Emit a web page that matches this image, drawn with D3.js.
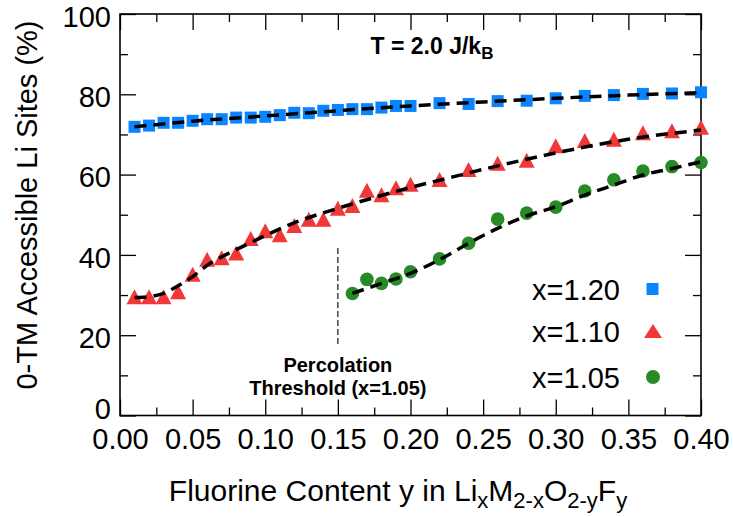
<!DOCTYPE html>
<html>
<head>
<meta charset="utf-8">
<script src="https://cdn.jsdelivr.net/npm/d3@7"></script>
<style>
body { margin: 0; background: #fff; }
text { font-family: "Liberation Sans", Arial, Helvetica, sans-serif; fill: #000; }
</style>
</head>
<body>
<div id="chart"></div>
<script>
// sample positions (fluorine content y)
var yFull = [0.01, 0.02, 0.03, 0.04, 0.05, 0.06, 0.07, 0.08, 0.09, 0.10,
             0.11, 0.12, 0.13, 0.14, 0.15, 0.16, 0.17, 0.18, 0.19, 0.20,
             0.22, 0.24, 0.26, 0.28, 0.30, 0.32, 0.34, 0.36, 0.38, 0.40];
var yPerc = [0.16, 0.17, 0.18, 0.19, 0.20, 0.22, 0.24, 0.26, 0.28, 0.30,
             0.32, 0.34, 0.36, 0.38, 0.40];

// 0-TM accessible Li sites (%)
var x120 = [71.9, 72.2, 72.9, 72.9, 73.4, 73.8, 73.8, 74.2, 74.2, 74.4,
            74.8, 75.4, 75.3, 75.9, 76.1, 76.3, 76.3, 76.7, 77.1, 77.1,
            77.8, 77.6, 78.3, 78.4, 79.0, 79.6, 79.8, 80.1, 80.2, 80.5];
var x110 = [29.6, 29.6, 29.6, 30.8, 35.2, 38.9, 39.3, 40.5, 44.1, 46.0,
            45.0, 47.3, 48.9, 48.9, 51.6, 52.3, 56.1, 55.0, 56.7, 57.6,
            58.8, 61.3, 62.8, 63.6, 67.2, 68.5, 68.8, 70.4, 70.9, 71.8];
var x105 = [30.4, 33.9, 32.9, 34.0, 35.8, 39.0, 42.9, 48.9, 50.4, 51.9,
            55.9, 58.7, 60.9, 62.0, 63.0];

// fitted curves (dashed)
var fit120X = [0.01, 0.05, 0.10, 0.15, 0.20, 0.25, 0.30, 0.35, 0.40];
var fit120Y = [71.9, 73.3, 74.6, 75.9, 77.1, 78.1, 79.0, 79.8, 80.4];
var fit110X = [0.01, 0.02, 0.03, 0.04, 0.05, 0.06, 0.07, 0.08, 0.10, 0.12,
               0.15, 0.18, 0.20, 0.22, 0.25, 0.30, 0.35, 0.40];
var fit110Y = [29.4, 29.6, 30.4, 32.3, 34.6, 37.4, 39.5, 41.3, 44.8, 48.0,
               51.6, 54.8, 56.8, 58.6, 61.3, 65.4, 68.8, 71.1];
var fit105X = [0.16, 0.18, 0.20, 0.22, 0.24, 0.26, 0.28, 0.30, 0.32, 0.34,
               0.36, 0.38, 0.40];
var fit105Y = [30.4, 32.9, 35.4, 38.8, 42.9, 46.6, 49.7, 52.0, 54.9, 57.4,
               59.9, 61.5, 63.2];

var xMajor = [0.00, 0.05, 0.10, 0.15, 0.20, 0.25, 0.30, 0.35, 0.40];
var xMinor = [0.025, 0.075, 0.125, 0.175, 0.225, 0.275, 0.325, 0.375];
var yMajor = [0, 20, 40, 60, 80, 100];
var yMinor = [10, 30, 50, 70, 90];

var legendLabels = ["x=1.20", "x=1.10", "x=1.05"];
var percLine = {x: 0.15, y0: 17.1, y1: 41.7};

var W = 733, H = 517;
var blue = "#0a85ff", red = "#f03838", green = "#268b26";

var svg = d3.select("#chart").append("svg")
    .attr("width", W).attr("height", H);

var x = d3.scaleLinear().domain([0, 0.4]).range([120, 701]);
var y = d3.scaleLinear().domain([0, 100]).range([415.5, 14]);

function ticks(axisFn, pos, values, size, labels) {
    var a = axisFn.tickValues(values).tickSizeInner(-size).tickSizeOuter(0);
    if (!labels) a.tickFormat("");
    var g = svg.append("g").attr("transform", pos).call(a);
    g.select(".domain").remove();
    g.selectAll(".tick line").attr("stroke", "#000").attr("stroke-width", 1.3);
    return g;
}

var gx = ticks(d3.axisBottom(x).tickFormat(d3.format(".2f")).tickPadding(13), "translate(0,415.5)", xMajor, 16, true);
gx.selectAll("text").attr("font-size", 29);
ticks(d3.axisBottom(x), "translate(0,415.5)", xMinor, 8, false);
ticks(d3.axisTop(x), "translate(0,14)", xMajor, 16, false);
ticks(d3.axisTop(x), "translate(0,14)", xMinor, 8, false);

var gy = ticks(d3.axisLeft(y).tickFormat(d3.format("d")).tickPadding(9), "translate(120,0)", yMajor, 16, true);
gy.selectAll("text").attr("font-size", 29)
    .attr("dy", function(d) { return d === 0 ? "0.1em" : "0.42em"; });
ticks(d3.axisLeft(y), "translate(120,0)", yMinor, 8, false);
ticks(d3.axisRight(y), "translate(701,0)", yMajor, 16, false);
ticks(d3.axisRight(y), "translate(701,0)", yMinor, 8, false);

svg.selectAll(".tick text").attr("fill", "#000").style("font-family", '"Liberation Sans", Arial, sans-serif');

// frame
svg.append("rect")
    .attr("x", x(0)).attr("y", y(100))
    .attr("width", x(0.4) - x(0)).attr("height", y(0) - y(100))
    .attr("fill", "none").attr("stroke", "#000").attr("stroke-width", 1.6);

// percolation threshold marker
svg.append("line")
    .attr("x1", x(percLine.x)).attr("x2", x(percLine.x))
    .attr("y1", y(percLine.y1)).attr("y2", y(percLine.y0))
    .attr("stroke", "#000").attr("stroke-width", 1.1)
    .attr("stroke-dasharray", "6,3");

svg.append("text")
    .attr("x", x(percLine.x)).attr("y", 372)
    .attr("text-anchor", "middle").attr("font-size", 20).attr("font-weight", "bold")
    .text("Percolation");
svg.append("text")
    .attr("x", x(percLine.x)).attr("y", 395)
    .attr("text-anchor", "middle").attr("font-size", 20).attr("font-weight", "bold")
    .text("Threshold (x=1.05)");

// markers
function triPath(w, h) {
    return "M0," + (-h / 2) + "L" + (w / 2) + "," + (h / 2) + "L" + (-w / 2) + "," + (h / 2) + "Z";
}

svg.append("g").selectAll("rect")
    .data(yFull.map(function(d, i) { return [d, x120[i]]; }))
    .enter().append("rect")
    .attr("x", function(d) { return x(d[0]) - 6; })
    .attr("y", function(d) { return y(d[1]) - 6; })
    .attr("width", 12).attr("height", 12)
    .attr("fill", blue);

svg.append("g").selectAll("path")
    .data(yFull.map(function(d, i) { return [d, x110[i]]; }))
    .enter().append("path")
    .attr("d", triPath(16, 15))
    .attr("transform", function(d) { return "translate(" + x(d[0]) + "," + y(d[1]) + ")"; })
    .attr("fill", red);

svg.append("g").selectAll("circle")
    .data(yPerc.map(function(d, i) { return [d, x105[i]]; }))
    .enter().append("circle")
    .attr("cx", function(d) { return x(d[0]); })
    .attr("cy", function(d) { return y(d[1]); })
    .attr("r", 6.8)
    .attr("fill", green);

// fitted dashed curves
var line = d3.line()
    .x(function(d) { return x(d[0]); })
    .y(function(d) { return y(d[1]); })
    .curve(d3.curveMonotoneX);

[[fit120X, fit120Y], [fit110X, fit110Y], [fit105X, fit105Y]].forEach(function(f) {
    svg.append("path")
        .datum(f[0].map(function(d, i) { return [d, f[1][i]]; }))
        .attr("d", line)
        .attr("fill", "none")
        .attr("stroke", "#000")
        .attr("stroke-width", 3.5)
        .attr("stroke-dasharray", "12,7");
});

// title
var title = svg.append("text")
    .attr("x", 432).attr("y", 54)
    .attr("text-anchor", "middle").attr("font-size", 23).attr("font-weight", "bold");
title.append("tspan").text("T = 2.0 J/k");
title.append("tspan").attr("font-size", 17).attr("dy", 5).text("B");

// legend
var legendColors = [blue, red, green];
var legendY = [289, 331, 377];
legendLabels.forEach(function(t, i) {
    svg.append("text")
        .attr("x", 620).attr("y", legendY[i] + 11)
        .attr("text-anchor", "end").attr("font-size", 29)
        .text(t);
});
svg.append("rect").attr("x", 646.5).attr("y", legendY[0] - 6)
    .attr("width", 12).attr("height", 12).attr("fill", blue);
svg.append("path").attr("d", triPath(18, 14))
    .attr("transform", "translate(653," + legendY[1] + ")").attr("fill", red);
svg.append("circle").attr("cx", 653).attr("cy", legendY[2]).attr("r", 7)
    .attr("fill", green);

// axis titles
svg.append("text")
    .attr("transform", "translate(37,205) rotate(-90)")
    .attr("text-anchor", "middle").attr("font-size", 29)
    .text("0-TM Accessible Li Sites (%)");

var xt = svg.append("text")
    .attr("x", 398).attr("y", 501)
    .attr("text-anchor", "middle").attr("font-size", 30);
xt.append("tspan").text("Fluorine Content y in Li");
xt.append("tspan").attr("font-size", 22).attr("dy", 7).text("x");
xt.append("tspan").attr("dy", -7).text("M");
xt.append("tspan").attr("font-size", 22).attr("dy", 7).text("2-x");
xt.append("tspan").attr("dy", -7).text("O");
xt.append("tspan").attr("font-size", 22).attr("dy", 7).text("2-y");
xt.append("tspan").attr("dy", -7).text("F");
xt.append("tspan").attr("font-size", 22).attr("dy", 7).text("y");
</script>
</body>
</html>
